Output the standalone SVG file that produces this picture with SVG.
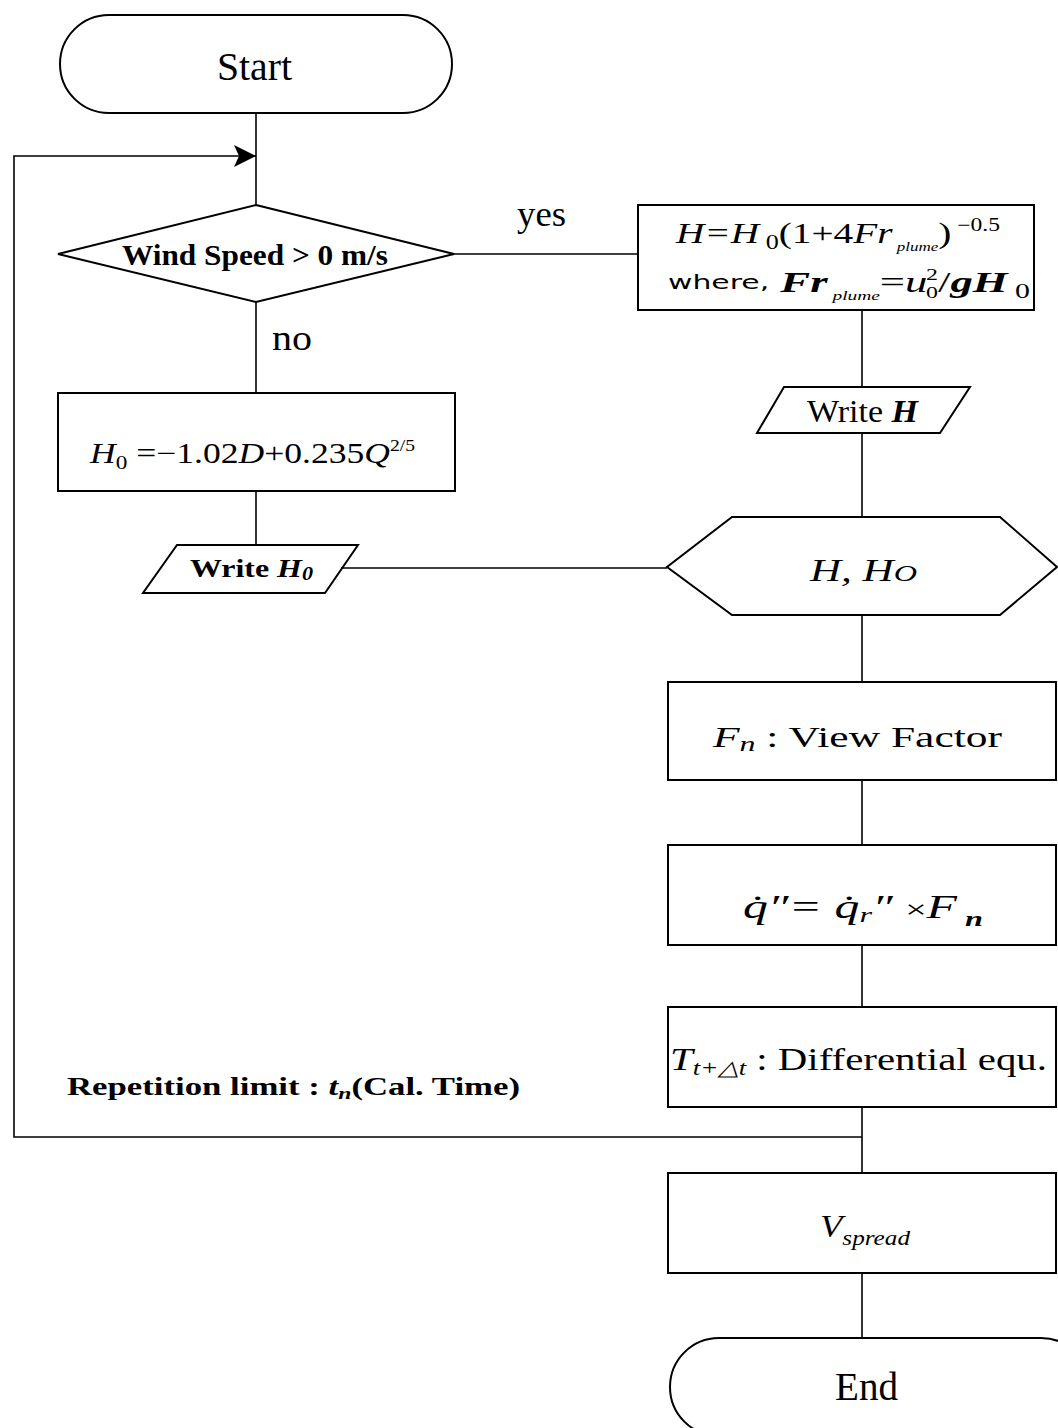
<svg xmlns="http://www.w3.org/2000/svg" width="1058" height="1428" viewBox="0 0 1058 1428">
<style>
.s{fill:none;stroke:#000;stroke-width:2}
.c{fill:none;stroke:#000;stroke-width:1.6}
.t{font-family:"Liberation Serif",serif;fill:#000}
.i{font-style:italic}
.b{font-weight:bold}
</style>
<defs>
<marker id="ah" viewBox="0 0 22 22" refX="22" refY="11" markerWidth="22" markerHeight="22" markerUnits="userSpaceOnUse" orient="auto">
<path d="M0,0 L22,11 L0,22 L5,11 z" fill="#000"/>
</marker>
</defs>
<rect width="1058" height="1428" fill="#fff"/>
<g id="connectors">
<line class="c" x1="256" y1="113" x2="256" y2="205"/>
<polyline class="c" points="862,1137 14,1137 14,156 256,156" marker-end="url(#ah)"/>
<line class="c" x1="454" y1="254" x2="638" y2="254"/>
<line class="c" x1="256" y1="302" x2="256" y2="393"/>
<line class="c" x1="256" y1="491" x2="256" y2="545"/>
<line class="c" x1="341" y1="568" x2="667" y2="568"/>
<line class="c" x1="862" y1="310" x2="862" y2="387"/>
<line class="c" x1="862" y1="433" x2="862" y2="517"/>
<line class="c" x1="862" y1="615" x2="862" y2="682"/>
<line class="c" x1="862" y1="780" x2="862" y2="845"/>
<line class="c" x1="862" y1="945" x2="862" y2="1007"/>
<line class="c" x1="862" y1="1107" x2="862" y2="1173"/>
<line class="c" x1="862" y1="1273" x2="862" y2="1338"/>
<text class="t" x="517" y="226" font-size="36" textLength="49" lengthAdjust="spacingAndGlyphs">yes</text>
<text class="t" x="272" y="350" font-size="36" textLength="40" lengthAdjust="spacingAndGlyphs">no</text>
<text class="t b" x="67" y="1095" font-size="25" textLength="453" lengthAdjust="spacingAndGlyphs">Repetition limit : <tspan class="i">t</tspan><tspan class="i" font-size="17" dy="4">n</tspan><tspan dy="-4">(Cal. Time)</tspan></text>
</g>
<g id="start">
<rect class="s" x="60" y="15" width="392" height="98" rx="49"/>
<text class="t" x="217" y="80" font-size="40" textLength="75" lengthAdjust="spacingAndGlyphs">Start</text>
</g>
<g id="decision">
<polygon class="s" points="256,205 454,254 256,302 58,254"/>
<text class="t b" x="122" y="265" font-size="30" textLength="266" lengthAdjust="spacingAndGlyphs">Wind Speed &gt; 0 m/s</text>
</g>
<g id="plume">
<rect class="s" x="638" y="205" width="396" height="105"/>
<text class="t i" x="676" y="243" font-size="30" textLength="324" lengthAdjust="spacingAndGlyphs">H=H<tspan font-style="normal" font-size="20" dy="6"> 0</tspan><tspan font-style="normal" dy="-6">(1+4</tspan>Fr<tspan font-size="13" dy="8"> plume</tspan><tspan font-style="normal" dy="-8">)</tspan><tspan font-style="normal" font-size="18" dy="-12"> −0.5</tspan></text>
<text class="t" x="668" y="292" font-size="30" textLength="362" lengthAdjust="spacingAndGlyphs"><tspan font-family="'DejaVu Sans',sans-serif" font-size="20" dy="-3">where,</tspan><tspan dy="3">  </tspan><tspan class="i" font-weight="bold">Fr</tspan><tspan class="i" font-size="13" dy="8"> plume</tspan><tspan dy="-8">=</tspan><tspan class="i">u</tspan><tspan font-size="16" dx="-1" dy="-12">2</tspan><tspan font-size="16" dx="-8" dy="18">0</tspan><tspan dy="-6">/</tspan><tspan class="i" font-weight="bold">gH</tspan><tspan font-size="20" dy="6"> 0</tspan></text>
</g>
<g id="h0box">
<rect class="s" x="58" y="393" width="397" height="98"/>
<text class="t" x="90" y="463" font-size="29" textLength="325" lengthAdjust="spacingAndGlyphs"><tspan class="i">H</tspan><tspan font-size="19" dy="6">0</tspan><tspan dy="-6"> =−1.02</tspan><tspan class="i">D</tspan><tspan>+0.235</tspan><tspan class="i">Q</tspan><tspan font-size="16" dy="-12">2/5</tspan></text>
</g>
<g id="writeH0">
<polygon class="s" points="177,545 358,545 325,593 143,593"/>
<text class="t b" x="190" y="577" font-size="26" textLength="123" lengthAdjust="spacingAndGlyphs">Write <tspan class="i">H</tspan><tspan class="i" font-size="18" dy="3">0</tspan></text>
</g>
<g id="writeH">
<polygon class="s" points="784,387 970,387 940,433 757,433"/>
<text class="t" x="807" y="422" font-size="32" textLength="111" lengthAdjust="spacingAndGlyphs">Write <tspan class="i b">H</tspan></text>
</g>
<g id="merge">
<polygon class="s" points="732,517 1000,517 1057,567 1000,615 732,615 667,567"/>
<text class="t i" x="810" y="581" font-size="32" textLength="107" lengthAdjust="spacingAndGlyphs">H,  H<tspan font-size="24">O</tspan></text>
</g>
<g id="viewfactor">
<rect class="s" x="668" y="682" width="388" height="98"/>
<text class="t" x="713" y="747" font-size="30" textLength="289" lengthAdjust="spacingAndGlyphs"><tspan class="i">F</tspan><tspan class="i" font-size="22" dy="4">n</tspan><tspan dy="-4">  :  View  Factor</tspan></text>
</g>
<g id="heatflux">
<rect class="s" x="668" y="845" width="388" height="100"/>
<text class="t i" x="743" y="918" font-size="34" textLength="240" lengthAdjust="spacingAndGlyphs">q̇″=  q̇<tspan font-size="22" dy="4">r</tspan><tspan dy="-4">″   </tspan><tspan font-style="normal" font-size="26">×</tspan>F<tspan font-size="22" font-weight="bold" dy="8"> n</tspan></text>
</g>
<g id="temperature">
<rect class="s" x="668" y="1007" width="388" height="100"/>
<text class="t" x="670" y="1070" font-size="32" textLength="377" lengthAdjust="spacingAndGlyphs"><tspan class="i">T</tspan><tspan class="i" font-size="21" dy="5">t+△t</tspan><tspan dy="-5">  :  Differential  equ.</tspan></text>
</g>
<g id="spread">
<rect class="s" x="668" y="1173" width="388" height="100"/>
<text class="t i" x="820" y="1237" font-size="32" textLength="90" lengthAdjust="spacingAndGlyphs">V<tspan font-size="22" dy="8">spread</tspan></text>
</g>
<g id="end">
<rect class="s" x="670" y="1338" width="420" height="98" rx="49"/>
<text class="t" x="835" y="1400" font-size="40" textLength="63" lengthAdjust="spacingAndGlyphs">End</text>
</g>
</svg>
